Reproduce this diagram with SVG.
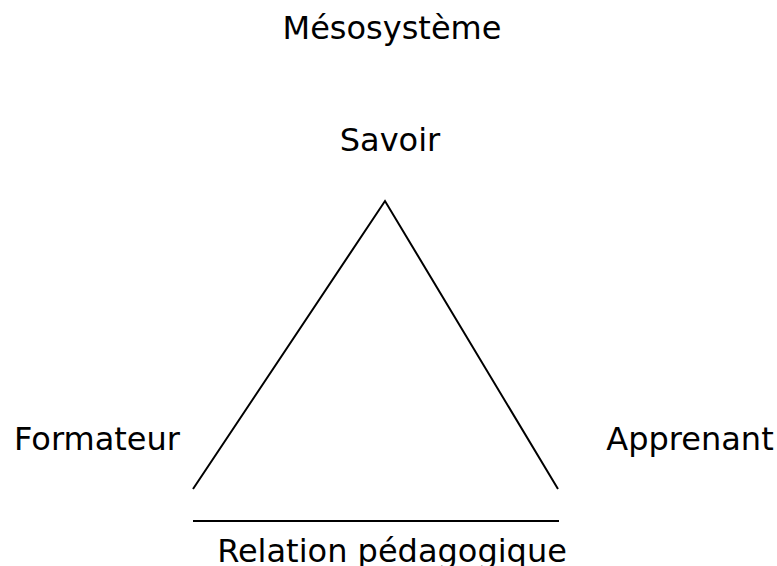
<svg xmlns="http://www.w3.org/2000/svg" width="777" height="566" viewBox="0 0 777 566">
<style>
text{font-family:"DejaVu Sans",sans-serif;font-size:32px;fill:#000;text-anchor:middle}
.ln{stroke:#000;stroke-width:2;fill:none}
</style>
<rect width="777" height="566" fill="#fff"/>
<g id="title"><text x="392" y="38.5">Mésosystème</text></g>
<g id="savoir"><text x="390" y="151">Savoir</text></g>
<g id="formateur"><text x="97" y="450">Formateur</text></g>
<g id="apprenant"><text x="690" y="450">Apprenant</text></g>
<g id="relation"><text x="392" y="561.5">Relation pédagogique</text></g>
<g id="connectors">
<polyline class="ln" points="193,489 385,201 558,489"/>
<line class="ln" x1="193" y1="521" x2="559" y2="521"/>
</g>
</svg>
